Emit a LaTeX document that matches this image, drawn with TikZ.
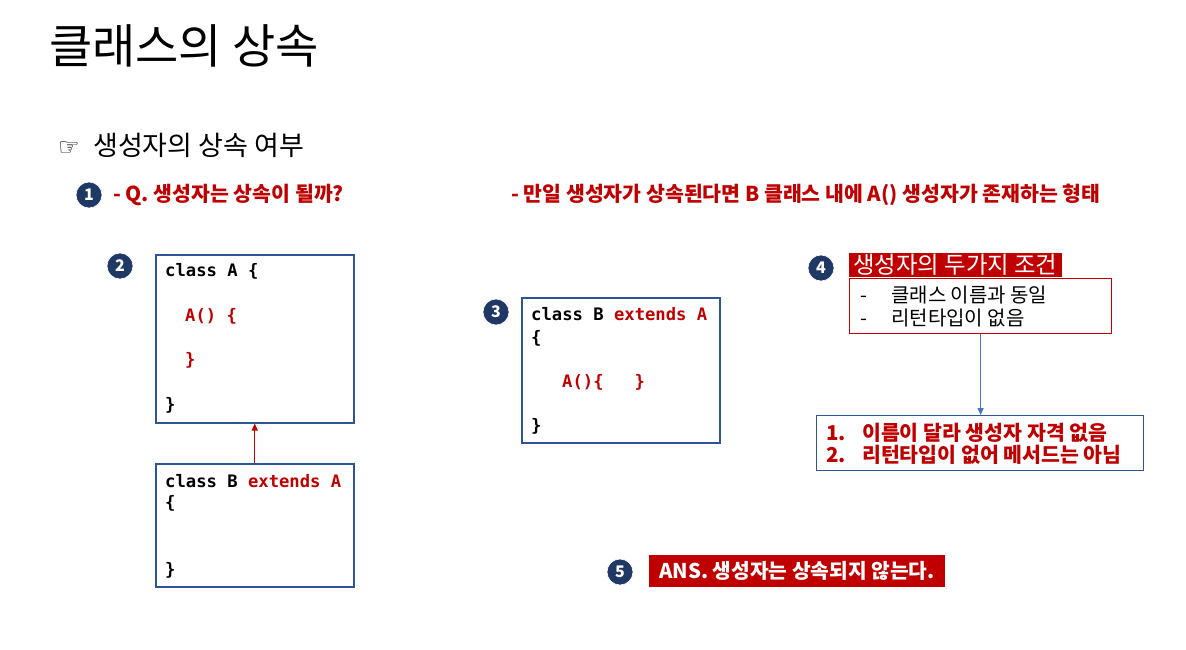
\documentclass[tikz,border=0pt]{standalone}
\usepackage{fontspec}
\usetikzlibrary{arrows.meta}
\setmainfont{Noto Sans CJK KR}
\newfontfamily\codefont{DejaVu Sans Mono}
\newfontfamily\symfont{DejaVu Sans}
\definecolor{kred}{RGB}{192,0,0}
\definecolor{navy}{RGB}{31,56,100}
\definecolor{bbord}{RGB}{47,85,151}
\definecolor{barrow}{RGB}{68,114,196}
\newcommand{\fs}[1]{\fontsize{#1}{#1}\selectfont}
\tikzset{
  numc/.style={circle,fill=navy,draw=white,line width=0.6,minimum size=26,inner sep=0,text=white,font=\fs{16}\bfseries},
  codebox/.style={draw=bbord,line width=1.5,anchor=north west,inner sep=0},
  code/.style={anchor=west,inner sep=0,font=\codefont\bfseries\fs{17.2}},
  redq/.style={anchor=west,inner sep=0,text=kred,font=\bfseries\fs{20.5}},
  plain/.style={anchor=west,inner sep=0},
}
\begin{document}
\begin{tikzpicture}[x=1pt,y=-1pt]
\useasboundingbox[fill=white] (0,0) rectangle (1186,649);
% title
\node[plain,font=\fs{47}] (title) at (49,46) {클래스의 상속};
\node[plain,font=\fs{27}] (sub) at (58,145) {\makebox[35pt][l]{\symfont\fs{24}☞}생성자의 상속 여부};
% step 1
\node[numc] (n1) at (89,195) {1};
\node[redq] (q1) at (113,195) {- Q. 생성자는 상속이 될까?};
\node[redq] (q2) at (511,195) {- 만일 생성자가 상속된다면 B 클래스 내에 A() 생성자가 존재하는 형태};
% step 2
\node[numc] (n2) at (120,266) {2};
\node[codebox,minimum width=198,minimum height=168] (boxA) at (155,254) {};
\node[code] (a1) at (165,271) {class A \{};
\node[code,text=kred] (a2) at (185,316) {A() \{};
\node[code,text=kred] (a3) at (185,360) {\}};
\node[code] (a4) at (165,405) {\}};
\node[codebox,minimum width=198,minimum height=123] (boxB) at (155,463) {};
\node[code] (b1) at (165,481) {class B \textcolor{kred}{extends A}};
\node[code] (b2) at (165,503) {\{};
\node[code] (b3) at (165,570) {\}};
\draw[kred,line width=1.2,-{Triangle[length=7,width=6]}] (boxB.north) -- (boxA.south);
% step 3
\node[numc] (n3) at (496,312) {3};
\node[codebox,minimum width=198,minimum height=145] (boxC) at (521,297) {};
\node[code] (c1) at (531,314) {class B \textcolor{kred}{extends A}};
\node[code] (c2) at (531,338) {\{};
\node[code,text=kred] (c3) at (562,382) {A()\{\ \ \ \}};
\node[code] (c4) at (531,426) {\}};
% step 4
\node[numc] (n4) at (821,268) {4};
\node[fill=kred,anchor=north west,minimum width=213,minimum height=24,inner sep=0] (lab4) at (849,253) {};
\node[plain,text=white,font=\fs{23.4}] (lab4t) at (853,265) {생성자의 두가지 조건};
\node[draw=kred,line width=1.2,anchor=north west,minimum width=262,minimum height=55,inner sep=0] (cond) at (849,278) {};
\node[plain,font=\fs{20}] (d1) at (860,295) {\makebox[31pt][l]{-}클래스 이름과 동일};
\node[plain,font=\fs{20}] (d2) at (860,318) {\makebox[31pt][l]{-}리턴타입이 없음};
\node[draw=bbord,line width=1.2,anchor=north west,minimum width=327,minimum height=55,inner sep=0] (res) at (816,415) {};
\node[redq,font=\bfseries\fs{20.5}] (r1) at (826,433) {\makebox[36pt][l]{1.}이름이 달라 생성자 자격 없음};
\node[redq,font=\bfseries\fs{20.5}] (r2) at (826,455) {\makebox[36pt][l]{2.}리턴타입이 없어 메서드는 아님};
\draw[barrow,line width=1,-{Triangle[length=7,width=6]}] (cond.south) -- (res.north -| cond.south);
% step 5
\node[numc] (n5) at (620,572) {5};
\node[fill=kred,anchor=north west,minimum width=296,minimum height=32,inner sep=0] (ans) at (649,555) {};
\node[plain,text=white,font=\bfseries\fs{20.3}] (anst) at (659,571) {ANS. 생성자는 상속되지 않는다.};
\end{tikzpicture}
\end{document}
